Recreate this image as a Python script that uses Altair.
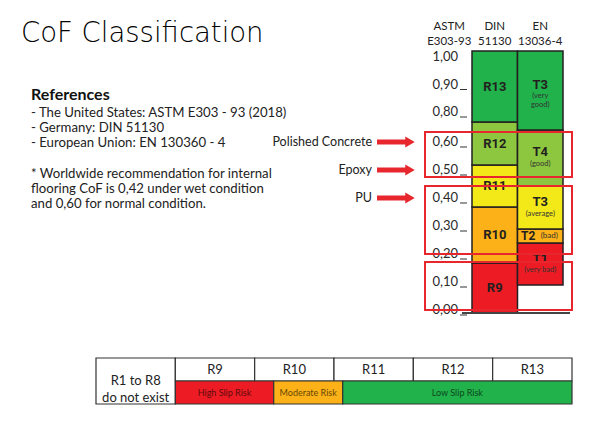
import altair as alt
import numpy as np
import pandas as pd

# ---------------- data ----------------
standards_top = ["ASTM", "DIN", "EN"]
standards_bottom = ["E303-93", "51130", "13036-4"]

tick_values = [0.0, 0.1, 0.2, 0.3, 0.4, 0.5, 0.6, 0.8, 0.9, 1.0]
tick_labels = ["0,00", "0,10", "0,20", "0,30", "0,40", "0,50", "0,60", "0,80", "0,90", "1,00"]

din_classes = ["R9", "R10", "R11", "R12", "R13"]
din_low = [-0.011, 0.168, 0.368, 0.518, 0.733]
din_high = [0.168, 0.368, 0.518, 0.733, 1.022]

en_classes = ["T1", "T2", "T3", "T4", "T3"]
en_notes = ["(very bad)", "(bad)", "(average)", "(good)", "(very\ngood)"]
en_low = [0.089, 0.239, 0.289, 0.443, 0.68]
en_high = [0.239, 0.289, 0.443, 0.68, 1.022]

class_colors = ["#ed1c24", "#fbb117", "#f4e918", "#8dc63f", "#21b24b"]

zone_low = [0.0, 0.2, 0.475]
zone_high = [0.171, 0.443, 0.667]

materials = ["Polished Concrete", "Epoxy", "PU"]
material_cof = [0.60, 0.50, 0.40]

table_header = ["R1 to R8\ndo not exist", "R9", "R10", "R11", "R12", "R13"]
risk_labels = ["High Slip Risk", "Moderate Risk", "Low Slip Risk"]
risk_from = [1.0, 2.24, 3.11]
risk_to = [2.24, 3.11, 6.0]
risk_colors = ["#ed1c24", "#fbb117", "#21b24b"]

title_text = "CoF Classification"
ref_heading = "References"
ref_lines = ["- The United States: ASTM E303 - 93 (2018)",
             "- Germany: DIN 51130",
             "- European Union: EN 130360 - 4"]
note_lines = ["* Worldwide recommendation for internal",
              "flooring CoF is 0,42 under wet condition",
              "and 0,60 for normal condition."]

# ---------------- scales / layout ----------------
FONT = "Lato"
BOLD_FONT = "Roboto"
INK = "#231f20"
RED = "#e8262d"

COF_DOMAIN = [-0.02, 0.6, 0.8, 1.03]          # broken axis: 0.60 -> 0.80 compressed
COF_RANGE = [315.6, 142, 112, 48.75]
y_cof = alt.Scale(domain=COF_DOMAIN, range=COF_RANGE, nice=False, zero=False)
x_col = alt.Scale(domain=[0, 3], range=[426.5, 563], nice=False, zero=False)

x_tab = alt.Scale(domain=[0, 6], range=[96, 572], nice=False, zero=False)
y_tab = alt.Scale(domain=[0, 2], range=[358, 404], nice=False, zero=False)


def to_px(v):
    return np.interp(v, COF_DOMAIN, COF_RANGE)


def from_px(p):
    return np.interp(p, COF_RANGE[::-1], COF_DOMAIN[::-1])


def mid_label(lo, hi):
    return [float(from_px((to_px(a) + to_px(b)) / 2)) for a, b in zip(lo, hi)]


din_df = pd.DataFrame({
    "cls": din_classes, "lo": din_low, "hi": din_high, "color": class_colors,
    "x0": 1, "x1": 2, "xm": 1.5,
})
din_df["ly"] = mid_label(din_low, din_high)

en_df = pd.DataFrame({
    "cls": en_classes, "note": en_notes, "lo": en_low, "hi": en_high, "color": class_colors,
    "x0": 2, "x1": 3, "xm": 2.5,
})
en_df["ly"] = mid_label(en_low, en_high)
en_df["inline"] = (en_df["hi"] - en_df["lo"]) < 0.07

head_df = pd.DataFrame({"top": standards_top, "bottom": standards_bottom,
                        "xm": [i + 0.5 for i in range(len(standards_top))]})
tick_df = pd.DataFrame({"v": tick_values, "lab": tick_labels})
zone_df = pd.DataFrame({"lo": zone_low, "hi": zone_high})
mat_df = pd.DataFrame({"m": materials, "v": material_cof})
base_df = pd.DataFrame({"v": [din_low[0]]})

X = lambda f: alt.X(f, scale=x_col, axis=None)
Y = lambda f: alt.Y(f, scale=y_cof, axis=None)

din_rect = alt.Chart(din_df).mark_rect(stroke=INK, strokeWidth=1.5).encode(
    x=X("x0:Q"), x2="x1:Q", y=Y("lo:Q"), y2="hi:Q", fill=alt.Color("color:N", scale=None))
en_rect = alt.Chart(en_df).mark_rect(stroke=INK, strokeWidth=1.5).encode(
    x=X("x0:Q"), x2="x1:Q", y=Y("lo:Q"), y2="hi:Q", fill=alt.Color("color:N", scale=None))

din_text = alt.Chart(din_df).mark_text(font=BOLD_FONT, fontWeight="bold", fontSize=13,
                                       color=INK, baseline="middle").encode(
    x=X("xm:Q"), y=Y("ly:Q"), text="cls:N")

en_main = alt.Chart(en_df).transform_filter("!datum.inline").mark_text(
    font=BOLD_FONT, fontWeight="bold", fontSize=13, color=INK, baseline="middle", dy=-5.5).encode(
    x=X("xm:Q"), y=Y("ly:Q"), text="cls:N")
en_note = alt.Chart(en_df).transform_filter("!datum.inline").mark_text(
    font=FONT, fontSize=7.5, color="#333333", baseline="middle", dy=6,
    lineBreak="\n", lineHeight=9).encode(
    x=X("xm:Q"), y=Y("ly:Q"), text="note:N")
en_main_inline = alt.Chart(en_df).transform_filter("datum.inline").mark_text(
    font=BOLD_FONT, fontWeight="bold", fontSize=12, color=INK, baseline="middle", dx=-12).encode(
    x=X("xm:Q"), y=Y("ly:Q"), text="cls:N")
en_note_inline = alt.Chart(en_df).transform_filter("datum.inline").mark_text(
    font=FONT, fontSize=8, color="#333333", baseline="middle", dx=9).encode(
    x=X("xm:Q"), y=Y("ly:Q"), text="note:N")

head_top = alt.Chart(head_df).mark_text(font=FONT, fontSize=11.5, color="#222222",
                                        baseline="middle").encode(
    x=X("xm:Q"), y=alt.value(27), text="top:N")
head_bottom = alt.Chart(head_df).mark_text(font=FONT, fontSize=11.5, color="#222222",
                                           baseline="middle").encode(
    x=X("xm:Q"), y=alt.value(42), text="bottom:N")

tick_text = alt.Chart(tick_df).mark_text(font=FONT, fontSize=13, color="#2a2a2a",
                                         align="right", baseline="middle").encode(
    x=alt.value(458), y=Y("v:Q"), text="lab:N")
tick_dash = alt.Chart(tick_df).transform_filter("datum.v < 1").mark_rule(
    color="#333333", strokeWidth=1, yOffset=5).encode(
    x=alt.value(460), x2=alt.value(467), y=Y("v:Q"))

base_rule = alt.Chart(base_df).mark_rule(color="#444444", strokeWidth=2).encode(
    x=alt.value(462), x2=alt.value(570), y=Y("v:Q"))

zone_rect = alt.Chart(zone_df).mark_rect(fillOpacity=0, stroke=RED, strokeWidth=2).encode(
    x=alt.value(425), x2=alt.value(572), y=Y("lo:Q"), y2="hi:Q")

mat_text = alt.Chart(mat_df).mark_text(font=FONT, fontSize=12.5, color="#222222",
                                       align="right", baseline="middle").encode(
    x=alt.value(372), y=Y("v:Q"), text="m:N")
mat_shaft = alt.Chart(mat_df).mark_rule(color=RED, strokeWidth=5).encode(
    x=alt.value(377), x2=alt.value(407), y=Y("v:Q"))
mat_head = alt.Chart(mat_df).mark_point(shape="triangle-right", filled=True, size=120,
                                        color=RED, opacity=1).encode(
    x=alt.value(410), y=Y("v:Q"))

cof_block = alt.layer(din_rect, en_rect, din_text, en_main, en_note, en_main_inline,
                      en_note_inline, head_top, head_bottom, tick_text, tick_dash,
                      base_rule, zone_rect, mat_shaft, mat_head, mat_text)

# ---------------- bottom table ----------------
no_risk_cols = int(risk_from[0])
hdr_df = pd.DataFrame({"lab": table_header, "i": list(range(len(table_header)))})
hdr_df["x0"] = hdr_df["i"]
hdr_df["x1"] = hdr_df["i"] + 1
hdr_df["xm"] = hdr_df["i"] + 0.5
hdr_df["y0"] = 0
hdr_df["y1"] = np.where(hdr_df["i"] < no_risk_cols, 2, 1)
hdr_df["ym"] = hdr_df["y1"] / 2

risk_df = pd.DataFrame({"lab": risk_labels, "x0": risk_from, "x1": risk_to, "color": risk_colors})
risk_df["xm"] = (risk_df["x0"] + risk_df["x1"]) / 2
risk_df["y0"] = 1
risk_df["y1"] = 2
risk_df["ym"] = 1.5

TX = lambda f: alt.X(f, scale=x_tab, axis=None)
TY = lambda f: alt.Y(f, scale=y_tab, axis=None)

hdr_rect = alt.Chart(hdr_df).mark_rect(fill="white", stroke="#333333", strokeWidth=1.2).encode(
    x=TX("x0:Q"), x2="x1:Q", y=TY("y0:Q"), y2="y1:Q")
risk_rect = alt.Chart(risk_df).mark_rect(stroke="#333333", strokeWidth=1.2).encode(
    x=TX("x0:Q"), x2="x1:Q", y=TY("y0:Q"), y2="y1:Q", fill=alt.Color("color:N", scale=None))
hdr_text = alt.Chart(hdr_df).mark_text(font=FONT, fontSize=13, color="#222222",
                                       baseline="middle", lineBreak="\n", lineHeight=17).encode(
    x=TX("xm:Q"), y=TY("ym:Q"), text="lab:N")
risk_text = alt.Chart(risk_df).mark_text(font=FONT, fontSize=9, color="#000000", opacity=0.62,
                                         baseline="middle").encode(
    x=TX("xm:Q"), y=TY("ym:Q"), text="lab:N")

table_block = alt.layer(hdr_rect, risk_rect, hdr_text, risk_text)

# ---------------- free text ----------------
txt_df = pd.DataFrame({"title": [title_text], "head": [ref_heading],
                       "refs": ["\n".join(ref_lines)], "note": ["\n".join(note_lines)]})

title = alt.Chart(txt_df).mark_text(font="DejaVu Sans", fontWeight=200, fontSize=27.5,
                                    color="#000000", align="left", baseline="alphabetic").encode(
    x=alt.value(21), y=alt.value(42), text="title:N")
heading = alt.Chart(txt_df).mark_text(font=FONT, fontWeight="bold", fontSize=16, color="#111111",
                                      align="left", baseline="alphabetic").encode(
    x=alt.value(31), y=alt.value(100), text="head:N")
refs = alt.Chart(txt_df).mark_text(font=FONT, fontSize=13.2, color="#222222", align="left",
                                   baseline="alphabetic", lineBreak="\n", lineHeight=15).encode(
    x=alt.value(31), y=alt.value(117), text="refs:N")
note = alt.Chart(txt_df).mark_text(font=FONT, fontSize=13.2, color="#222222", align="left",
                                   baseline="alphabetic", lineBreak="\n", lineHeight=15).encode(
    x=alt.value(31), y=alt.value(178), text="note:N")

text_block = alt.layer(title, heading, refs, note)

chart = alt.layer(cof_block, table_block, text_block).resolve_scale(
    x="independent", y="independent"
).properties(
    width=600, height=424, padding=0, autosize=alt.AutoSizeParams(type="none"),
    background="white"
).configure_view(stroke=None)

chart.save("out.html", embed_options={"renderer": "svg", "actions": False})
